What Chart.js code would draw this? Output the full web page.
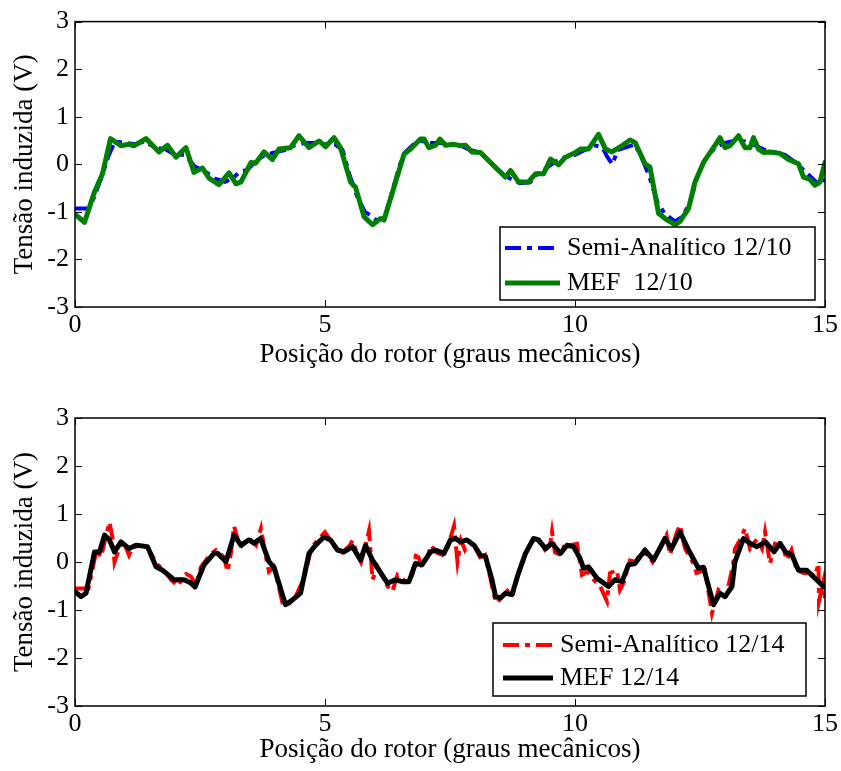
<!DOCTYPE html>
<html><head><meta charset="utf-8">
<script src="https://cdn.jsdelivr.net/npm/chart.js@4.4.0/dist/chart.umd.min.js"></script>
<style>
html,body{margin:0;padding:0;background:#fff;width:841px;height:771px;overflow:hidden;}
canvas{position:absolute;left:0;}
#c1{top:0;}
#c2{top:385px;}
</style></head><body>
<canvas id="c1" width="841" height="385"></canvas>
<canvas id="c2" width="841" height="386"></canvas>
<script>
// ---------- DATA ----------
const xTicks = [0, 5, 10, 15];
const yTicks = [-3, -2, -1, 0, 1, 2, 3];

// Top: 12/10
const semi1210X = [0,0.28,0.4,0.55,0.68,0.8,1.0,1.2,1.4,1.6,1.8,2.0,2.2,2.4,2.6,2.8,3.0,3.15,3.3,3.45,3.6,3.8,4.0,4.2,4.4,4.6,4.8,5.0,5.2,5.35,5.5,5.65,5.8,5.95,6.05,6.2,6.35,6.5,6.6,6.75,6.9,7.1,7.3,7.5,7.7,7.9,8.1,8.3,8.5,8.7,8.9,9.1,9.25,9.4,9.6,9.8,10.0,10.2,10.4,10.55,10.65,10.75,10.85,11.0,11.2,11.35,11.5,11.65,11.8,12.0,12.15,12.3,12.45,12.6,12.8,13.0,13.2,13.4,13.6,13.8,14.0,14.2,14.4,14.6,14.8,14.95,15.0];
const semi1210Y = [-0.93,-0.93,-0.65,-0.2,0.2,0.48,0.45,0.42,0.48,0.35,0.32,0.2,0.2,-0.05,-0.15,-0.3,-0.37,-0.3,-0.15,-0.12,0.05,0.2,0.25,0.3,0.4,0.45,0.45,0.42,0.42,0.3,-0.25,-0.7,-1.0,-1.1,-1.2,-1.1,-0.55,0.0,0.25,0.4,0.5,0.45,0.45,0.42,0.4,0.3,0.25,0.05,-0.15,-0.3,-0.4,-0.38,-0.2,-0.1,0.05,0.15,0.2,0.3,0.4,0.35,0.15,0.0,0.3,0.35,0.42,0.1,-0.3,-0.8,-1.05,-1.2,-1.1,-0.8,-0.25,0.1,0.35,0.45,0.5,0.48,0.4,0.3,0.25,0.2,0.05,-0.15,-0.35,-0.45,-0.3];

const mef1210X = [0,0.19,0.39,0.55,0.71,0.92,1.08,1.18,1.42,1.68,1.85,2.02,2.22,2.38,2.55,2.68,2.88,3.08,3.22,3.32,3.52,3.61,3.78,3.95,4.08,4.31,4.48,4.68,4.88,5.01,5.18,5.31,5.51,5.61,5.78,5.95,6.11,6.18,6.58,6.71,6.91,6.98,7.08,7.21,7.3,7.41,7.58,7.71,7.81,7.94,8.11,8.31,8.44,8.61,8.71,8.87,9.07,9.21,9.37,9.51,9.67,9.81,10.01,10.11,10.27,10.47,10.61,10.74,10.91,11.1,11.2,11.4,11.5,11.67,11.84,12.0,12.1,12.27,12.4,12.57,12.84,12.9,13.0,13.1,13.27,13.4,13.5,13.57,13.67,13.77,13.9,14.1,14.27,14.47,14.57,14.7,14.8,14.9,15.0];
const mef1210Y = [-1.05,-1.22,-0.58,-0.2,0.54,0.39,0.42,0.39,0.54,0.26,0.4,0.15,0.35,-0.17,-0.08,-0.29,-0.43,-0.18,-0.41,-0.37,0.04,0.02,0.26,0.1,0.32,0.35,0.6,0.35,0.49,0.37,0.56,0.35,-0.37,-0.48,-1.1,-1.27,-1.14,-1.17,0.21,0.32,0.53,0.53,0.35,0.4,0.53,0.4,0.42,0.39,0.4,0.26,0.25,0.04,-0.1,-0.27,-0.13,-0.37,-0.37,-0.2,-0.2,0.11,-0.01,0.15,0.25,0.32,0.32,0.63,0.32,0.26,0.37,0.51,0.46,0.01,-0.06,-1.03,-1.17,-1.27,-1.2,-0.93,-0.37,0.04,0.46,0.56,0.35,0.39,0.6,0.35,0.35,0.56,0.32,0.25,0.26,0.23,0.1,0.01,-0.27,-0.32,-0.44,-0.37,0.04];

// Bottom: 12/14
const semi1214X = [0,0.27,0.32,0.43,0.52,0.6,0.69,0.75,0.79,0.89,0.96,1.08,1.15,1.3,1.45,1.65,1.8,1.92,2.05,2.22,2.32,2.42,2.52,2.7,2.82,2.98,3.05,3.12,3.18,3.3,3.4,3.52,3.62,3.72,3.8,3.88,3.98,4.15,4.25,4.4,4.53,4.6,4.73,4.85,5.0,5.08,5.2,5.35,5.5,5.55,5.65,5.72,5.8,5.88,5.95,6.05,6.15,6.25,6.35,6.45,6.55,6.65,6.75,6.83,6.92,7.05,7.12,7.22,7.35,7.45,7.58,7.65,7.72,7.8,7.9,8.0,8.1,8.2,8.3,8.38,8.44,8.55,8.65,8.75,8.85,9.0,9.1,9.2,9.3,9.4,9.5,9.54,9.6,9.72,9.8,9.9,10.04,10.14,10.25,10.37,10.5,10.64,10.7,10.84,10.9,10.97,11.1,11.2,11.33,11.45,11.55,11.7,11.83,11.9,12.03,12.1,12.2,12.37,12.43,12.6,12.74,12.87,13.03,13.16,13.2,13.32,13.4,13.5,13.64,13.74,13.8,13.9,14.0,14.17,14.23,14.33,14.43,14.57,14.7,14.8,14.87,14.88,14.97,15.0];
const semi1214Y = [-0.55,-0.55,-0.3,0.25,0.1,0.45,0.83,0.5,0.0,0.3,0.45,0.14,0.3,0.35,0.3,-0.05,-0.2,-0.37,-0.5,-0.25,-0.3,-0.5,-0.1,0.15,0.25,0.1,-0.2,0.2,0.75,0.3,0.4,0.45,0.35,0.7,0.2,-0.2,-0.1,-0.85,-0.9,-0.75,-0.45,-0.25,0.3,0.45,0.62,0.5,0.3,0.2,0.35,0.45,0.15,0.0,0.3,0.65,-0.37,-0.1,-0.3,-0.5,-0.61,-0.27,-0.35,-0.45,-0.25,0.21,-0.05,0.1,0.35,0.2,0.15,0.3,0.75,0.0,0.45,0.25,0.4,0.3,0.1,0.15,-0.3,-0.7,-0.86,-0.7,-0.6,-0.7,-0.3,0.15,0.35,0.52,0.4,0.25,0.35,0.63,0.2,0.15,0.38,0.35,0.38,-0.27,-0.2,-0.37,-0.5,-0.82,-0.23,-0.17,-0.58,-0.44,0.03,0.0,0.2,0.15,0.0,0.3,0.56,0.15,0.6,0.77,0.28,-0.03,-0.23,-0.17,-1.07,-0.58,-0.68,-0.07,0.28,0.5,0.7,0.28,0.48,0.28,0.63,-0.03,0.38,0.3,0.04,0.25,-0.17,-0.23,-0.23,-0.3,-0.03,-0.82,-0.4,-0.75];

const mef1214X = [0,0.12,0.22,0.39,0.49,0.59,0.69,0.79,0.92,1.08,1.22,1.45,1.62,1.75,1.98,2.18,2.32,2.4,2.58,2.78,2.85,3.02,3.18,3.32,3.48,3.58,3.71,3.88,3.98,4.21,4.35,4.51,4.68,4.81,4.98,5.11,5.25,5.38,5.55,5.71,5.81,5.95,6.08,6.25,6.41,6.54,6.68,6.81,6.94,7.11,7.21,7.38,7.51,7.61,7.71,7.84,7.98,8.11,8.21,8.34,8.41,8.51,8.61,8.74,8.87,9.01,9.17,9.27,9.41,9.54,9.71,9.84,9.97,10.1,10.17,10.27,10.44,10.67,10.8,10.94,11.07,11.2,11.4,11.57,11.8,11.93,12.1,12.27,12.47,12.57,12.77,12.9,13.0,13.14,13.2,13.37,13.5,13.64,13.81,13.98,14.1,14.21,14.34,14.47,14.63,14.8,14.97,15.0];
const mef1214Y = [-0.62,-0.72,-0.65,0.21,0.21,0.56,0.46,0.21,0.42,0.28,0.35,0.32,-0.1,-0.17,-0.37,-0.37,-0.44,-0.52,-0.06,0.18,0.18,0.01,0.56,0.35,0.46,0.39,0.49,0.01,-0.11,-0.89,-0.79,-0.65,0.18,0.35,0.52,0.46,0.25,0.21,0.32,0.04,0.35,0.04,-0.17,-0.44,-0.37,-0.41,-0.41,-0.03,-0.06,0.21,0.25,0.18,0.46,0.49,0.42,0.46,0.35,0.14,0.11,-0.37,-0.72,-0.75,-0.65,-0.68,-0.23,0.18,0.49,0.46,0.28,0.39,0.18,0.35,0.32,0.08,-0.13,-0.1,-0.34,-0.51,-0.37,-0.41,-0.06,-0.03,0.25,0.04,0.49,0.28,0.63,0.25,-0.13,-0.11,-0.89,-0.65,-0.72,-0.51,0.01,0.49,0.39,0.32,0.42,0.21,0.39,0.21,0.14,-0.17,-0.17,-0.34,-0.51,-0.53];

const labels1210 = ['Semi-Analítico 12/10', 'MEF  12/10'];
const labels1214 = ['Semi-Analítico 12/14', 'MEF 12/14'];
const xTitle = 'Posição do rotor (graus mecânicos)';
const yTitle = 'Tensão induzida (V)';

// ---------- HELPERS ----------
const FONT = "'Liberation Serif', 'Times New Roman', serif";
const pts = (xs, ys) => xs.map((x, i) => ({x: x, y: ys[i]}));
const DASHDOT = [16, 6, 5, 6];

const framePlugin = {
  id: 'frameTicks',
  afterDatasetsDraw(chart) {
    const {ctx, chartArea: a, scales: {x, y}} = chart;
    ctx.save();
    ctx.strokeStyle = '#000';
    ctx.lineWidth = 1.5;
    ctx.setLineDash([]);
    ctx.strokeRect(a.left, a.top, a.right - a.left, a.bottom - a.top);
    const L = 7;
    ctx.lineWidth = 1;
    ctx.beginPath();
    x.ticks.forEach(t => {
      const px = Math.round(x.getPixelForValue(t.value)) + 0.5;
      ctx.moveTo(px, a.bottom); ctx.lineTo(px, a.bottom - L);
      ctx.moveTo(px, a.top); ctx.lineTo(px, a.top + L);
    });
    y.ticks.forEach(t => {
      const py = Math.round(y.getPixelForValue(t.value)) + 0.5;
      ctx.moveTo(a.left, py); ctx.lineTo(a.left + L, py);
      ctx.moveTo(a.right, py); ctx.lineTo(a.right - L, py);
    });
    ctx.stroke();
    ctx.restore();
  }
};

const boxLegendPlugin = {
  id: 'boxLegend',
  afterDraw(chart, args, o) {
    const {ctx} = chart;
    ctx.save();
    ctx.fillStyle = '#fff';
    ctx.fillRect(o.left, o.top, o.right - o.left, o.bottom - o.top);
    ctx.strokeStyle = '#000';
    ctx.lineWidth = 1.5;
    ctx.setLineDash([]);
    ctx.strokeRect(o.left, o.top, o.right - o.left, o.bottom - o.top);
    const ds = chart.data.datasets;
    ds.forEach((d, i) => {
      const yy = o.rows[i];
      ctx.strokeStyle = d.borderColor;
      ctx.lineWidth = d.borderWidth;
      ctx.lineCap = 'butt';
      ctx.setLineDash(d.borderDash || []);
      ctx.beginPath();
      ctx.moveTo(o.sx0, yy); ctx.lineTo(o.sx1, yy);
      ctx.stroke();
      ctx.setLineDash([]);
      ctx.fillStyle = '#000';
      ctx.font = '26px ' + FONT;
      ctx.textBaseline = 'middle';
      ctx.textAlign = 'left';
      ctx.fillText(d.label, o.tx, yy);
    });
    ctx.restore();
  }
};

function makeChart(id, datasets, geom) {
  return new Chart(document.getElementById(id), {
    type: 'line',
    data: {datasets: datasets},
    plugins: [framePlugin, boxLegendPlugin],
    options: {
      responsive: false,
      animation: false,
      devicePixelRatio: 1,
      layout: {padding: {left: 0, right: 16, top: geom.top, bottom: 0}},
      elements: {point: {radius: 0}, line: {tension: 0}},
      plugins: {
        legend: {display: false},
        tooltip: {enabled: false},
        boxLegend: geom.legend
      },
      scales: {
        x: {
          type: 'linear', min: 0, max: 15,
          afterBuildTicks: s => { s.ticks = xTicks.map(v => ({value: v})); },
          afterFit: s => { s.height = geom.xh; },
          grid: {display: false, drawTicks: false},
          border: {display: false},
          ticks: {color: '#000', font: {family: FONT, size: 26}, padding: 3, maxRotation: 0},
          title: {display: true, text: xTitle, color: '#000', font: {family: FONT, size: 27}, padding: {top: 0, bottom: geom.tpad}}
        },
        y: {
          type: 'linear', min: -3, max: 3,
          afterBuildTicks: s => { s.ticks = yTicks.map(v => ({value: v})); },
          afterFit: s => { s.width = 75; },
          grid: {display: false, drawTicks: false},
          border: {display: false},
          ticks: {color: '#000', font: {family: FONT, size: 26}, padding: 6},
          title: {display: true, text: yTitle, color: '#000', font: {family: FONT, size: 27}, padding: {top: 9, bottom: 0}}
        }
      }
    }
  });
}

makeChart('c1', [
  {label: labels1210[0], data: pts(semi1210X, semi1210Y), borderColor: '#0000FF', borderWidth: 4, borderDash: DASHDOT, order: 2, fill: false},
  {label: labels1210[1], data: pts(mef1210X, mef1210Y), borderColor: '#008000', borderWidth: 5, borderJoinStyle: 'round', borderCapStyle: 'round', order: 1, fill: false}
], {top: 18, xh: 78, tpad: 14,
    legend: {left: 500, top: 227, right: 815, bottom: 300, rows: [248, 283], sx0: 505, sx1: 560, tx: 567}});

makeChart('c2', [
  {label: labels1214[0], data: pts(semi1214X, semi1214Y), borderColor: '#FF0000', borderWidth: 4, borderDash: DASHDOT, order: 2, fill: false},
  {label: labels1214[1], data: pts(mef1214X, mef1214Y), borderColor: '#000000', borderWidth: 5, borderJoinStyle: 'round', borderCapStyle: 'round', order: 1, fill: false}
], {top: 33, xh: 65, tpad: 5,
    legend: {left: 493, top: 238, right: 806, bottom: 311, rows: [260, 293], sx0: 503, sx1: 553, tx: 560}});
</script>
</body></html>
